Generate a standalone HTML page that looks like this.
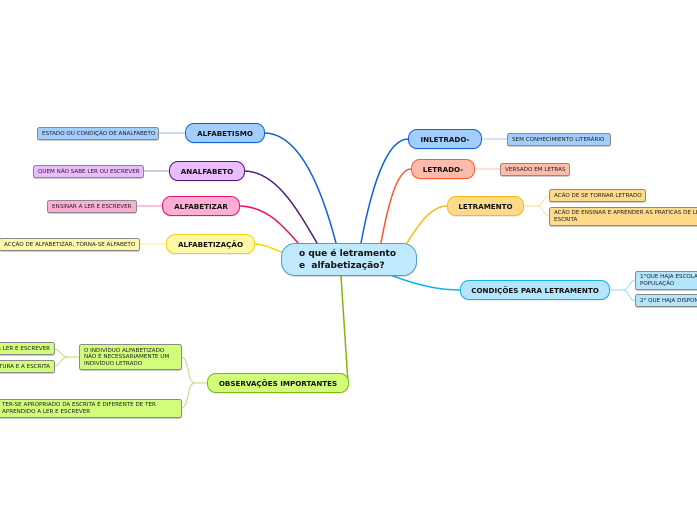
<!DOCTYPE html>
<html><head><meta charset="utf-8">
<style>
html,body{margin:0;padding:0;background:#fff}
#p{position:relative;width:697px;height:520px;overflow:hidden;font-family:"DejaVu Sans","Liberation Sans",sans-serif;color:#111}
#p svg{position:absolute;left:0;top:0}
.t,.l,.r{position:absolute;box-sizing:border-box;display:flex;align-items:center;white-space:nowrap}
.t{height:20px;border-radius:9px;border:1.2px solid;justify-content:center;font-weight:bold;font-size:7.15px;box-shadow:0 1px 0 rgba(0,0,0,.08)}
.l{border-radius:2.5px;border:1.2px solid #8a8a8a;font-size:5.6px;line-height:6.6px;padding-left:4px;padding-top:1px;box-shadow:0 1px 0 rgba(0,0,0,.2);color:#222}
.r{left:281px;top:243px;width:136px;height:33px;border-radius:14px;background:#c1e9fd;border:1.2px solid #4b9fd0;font-weight:bold;font-size:9px;line-height:12px;padding-left:17px;box-shadow:0 1px 0 rgba(0,0,0,.15)}
</style></head><body><div id="p">
<svg width="697" height="520" fill="none" stroke-linecap="round">
<g stroke-width="1.5">
<path d="M336 243C322 190 300 133 264 133" stroke="#0f62d6"/>
<path d="M317 243C295 205 275 172 245 171" stroke="#4f1a78"/>
<path d="M298 243C280 222 265 207 240 206" stroke="#f00f6e"/>
<path d="M282 252C272 249 265 244 255 244" stroke="#f3d60a"/>
<path d="M361 243C370 195 385 139 408 139" stroke="#0f62d6"/>
<path d="M381 243C388 205 397 169 411 169" stroke="#f95a2c"/>
<path d="M407 243C420 222 432 206 447 206" stroke="#fdb90f"/>
<path d="M393 276C420 286 440 290 460 290" stroke="#13aff0"/>
<path d="M341 276L348 383" stroke="#7fb80e"/>
</g>
<g stroke-width="1.2">
<path d="M158 133H185" stroke="#a8c8f3"/>
<path d="M143 171H170" stroke="#c4a6cf"/>
<path d="M136 206H162" stroke="#fb9ac4"/>
<path d="M140 244H166" stroke="#f8f0a0"/>
<path d="M481 139H507" stroke="#b8d2f5"/>
<path d="M474 169H500" stroke="#fdd0c4"/>
<path d="M524 206H537C543 206 543 196 550 196M537 206C543 206 543 216 550 216" stroke="#fde5a6"/>
<path d="M610 290H623C629 290 629 280 636 280M623 290C629 290 629 301 636 301" stroke="#a8e0f8"/>
<path d="M207 383H195C186 383 190 357 181 357M195 383C186 383 190 408 181 408" stroke="#c7e38a"/>
<path d="M79 357H68C61 357 60 349 54 349M68 357C61 357 60 366 54 366" stroke="#c7e38a"/>
</g>
</svg>

<div class="r">o que é letramento<br>e&nbsp; alfabetização?</div>

<div class="t" style="left:185px;top:123px;width:80px;background:#a3cdfd;border-color:#0f62d6">ALFABETISMO</div>
<div class="l" style="left:37px;top:127px;width:122px;height:13px;background:#a3cdfd">ESTADO OU CONDIÇÃO DE ANALFABETO</div>
<div class="t" style="left:169px;top:161px;width:76px;background:#eabbfd;border-color:#4f1a78">ANALFABETO</div>
<div class="l" style="left:33px;top:165px;width:111px;height:13px;background:#eabbfd">QUEM NÃO SABE LER OU ESCREVER</div>
<div class="t" style="left:162px;top:196px;width:78px;background:#ffaed3;border-color:#f00f6e">ALFABETIZAR</div>
<div class="l" style="left:47px;top:200px;width:90px;height:13px;background:#ffaed3">ENSINAR A LER E ESCREVER</div>
<div class="t" style="left:166px;top:234px;width:89px;background:#fdf7a8;border-color:#f3d60a">ALFABETIZAÇÃO</div>
<div class="l" style="left:-1px;top:238px;width:141px;height:13px;background:#fdf7a8">ACÇÃO DE ALFABETIZAR, TORNA-SE ALFABETO</div>

<div class="t" style="left:408px;top:129px;width:74px;background:#a3cdfd;border-color:#0f62d6">INLETRADO-</div>
<div class="l" style="left:507px;top:133px;width:104px;height:13px;background:#a3cdfd">SEM CONHECIMIENTO LITERÁRIO</div>
<div class="t" style="left:411px;top:159px;width:64px;background:#fdbcab;border-color:#f95a2c">LETRADO-</div>
<div class="l" style="left:500px;top:163px;width:70px;height:13px;background:#fdbcab">VERSADO EM LETRAS</div>
<div class="t" style="left:447px;top:196px;width:77px;background:#fedb8b;border-color:#fdb90f">LETRAMENTO</div>
<div class="l" style="left:549px;top:189px;width:97px;height:13px;background:#fedb8b">ACÃO DE SE TORNAR LETRADO</div>
<div class="l" style="left:549px;top:207px;width:170px;height:19px;background:#fedb8b">ACÃO DE ENSINAR E APRENDER AS PRATICAS DE LEITURA E<br>ESCRITA</div>
<div class="t" style="left:460px;top:280px;width:150px;background:#b3e5fd;border-color:#13aff0">CONDIÇÕES PARA LETRAMENTO</div>
<div class="l" style="left:635px;top:271px;width:170px;height:19px;background:#b3e5fd">1°QUE HAJA ESCOLARIZAÇÃO REAL E EFETIVA DA<br>POPULAÇÃO</div>
<div class="l" style="left:635px;top:294px;width:170px;height:13px;background:#b3e5fd">2° QUE HAJA DISPONIBILIDADE DE MATERIAL</div>

<div class="t" style="left:207px;top:373px;width:142px;background:#d1fd7b;border-color:#7fb80e">OBSERVAÇÕES IMPORTANTES</div>
<div class="l" style="left:79px;top:344px;width:103px;height:26px;background:#d1fd7b">O INDIVÍDUO ALFABETIZADO<br>NÃO É NECESSARIAMENTE UM<br>INDIVÍDUO LETRADO</div>
<div class="l" style="left:-60px;top:342px;width:115px;height:13px;background:#d1fd7b;justify-content:flex-end;padding-right:4px">SABER LER E ESCREVER</div>
<div class="l" style="left:-60px;top:360px;width:115px;height:13px;background:#d1fd7b;justify-content:flex-end;padding-right:4px">A LEITURA E A ESCRITA</div>
<div class="l" style="left:-4px;top:399px;width:186px;height:19px;background:#d1fd7b;padding-left:5px">TER-SE APROPRIADO DA ESCRITA É DIFERENTE DE TER<br>APRENDIDO A LER E ESCREVER</div>
</div></body></html>
